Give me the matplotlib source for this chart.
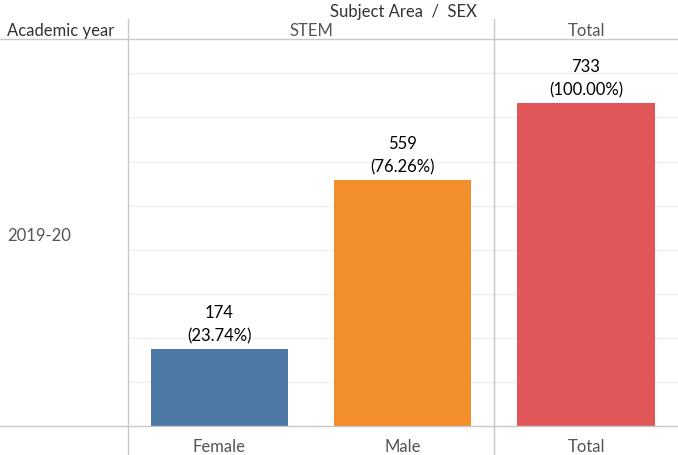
import matplotlib.pyplot as plt
from matplotlib.lines import Line2D

# ── data ─────────────────────────────────────────────────────────────────────
stem_sexes = ['Female', 'Male']
stem_counts = [174, 559]
stem_pcts = [23.74, 76.26]
total_label = ['Total']
total_counts = [733]
total_pcts = [100.00]
year = '2019-20'

colors_stem = ['#4e79a7', '#f28e2b']
color_total = '#e15759'

plt.rcParams['font.family'] = ['Lato', 'DejaVu Sans']

W, H = 678, 456
fig = plt.figure(figsize=(W / 100, H / 100), dpi=100)

# pixel layout helpers
x_left, x_split, x_right = 128, 494, 678
y_top, y_base = 40, 427


def fx(px):
    return px / W


def fy(py):
    return 1 - py / H


ymax = 878
fs = 12
ax1 = fig.add_axes([fx(x_left), fy(y_base), fx(x_split - x_left), (y_base - y_top) / H])
ax2 = fig.add_axes([fx(x_split), fy(y_base), fx(x_right - x_split), (y_base - y_top) / H])

grey = '#555555'
line_c = '#c8c8c8'

for ax, cats, vals, pcts, cols in [
    (ax1, stem_sexes, stem_counts, stem_pcts, colors_stem),
    (ax2, total_label, total_counts, total_pcts, [color_total]),
]:
    xs = range(len(cats))
    ax.bar(xs, vals, width=0.75, color=cols, zorder=2)
    ax.set_xlim(-0.5, len(cats) - 0.5)
    ax.set_ylim(0, ymax)
    ax.set_yticks(range(100, 900, 100))
    ax.yaxis.grid(True, color='#efefef', linewidth=1, zorder=0)
    ax.tick_params(left=False, labelleft=False, bottom=False)
    ax.set_xticks(list(xs))
    ax.set_xticklabels(cats, fontsize=fs, color=grey)
    ax.tick_params(axis='x', pad=5)
    for s in ax.spines.values():
        s.set_visible(False)
    for x, v, p in zip(xs, vals, pcts):
        ax.annotate(f'{v}\n({p:.2f}%)', (x, v), xytext=(0, 4), textcoords='offset points',
                    ha='center', va='bottom', fontsize=fs, color='black', linespacing=1.55)

# ── frame lines ──────────────────────────────────────────────────────────────
for py in (y_top, y_base):
    fig.add_artist(Line2D([0, 1], [fy(py), fy(py)], color=line_c, linewidth=1))
for px in (x_left, x_split):
    fig.add_artist(Line2D([fx(px), fx(px)], [fy(20), 0], color=line_c, linewidth=1))

# ── headers ──────────────────────────────────────────────────────────────────
fig.text(fx((x_left + x_right) / 2), fy(12), 'Subject Area  /  SEX', ha='center', va='center',
         fontsize=fs, color='#333333')
fig.text(fx(7), fy(31), 'Academic year', ha='left', va='center', fontsize=fs, color='#333333')
fig.text(fx((x_left + x_split) / 2), fy(31), 'STEM', ha='center', va='center', fontsize=fs, color=grey)
fig.text(fx((x_split + x_right) / 2), fy(31), 'Total', ha='center', va='center', fontsize=fs, color=grey)
fig.text(fx(7), fy((y_top + y_base) / 2 + 3), year, ha='left', va='center', fontsize=fs, color=grey)

fig.savefig('out.png', dpi=100)
